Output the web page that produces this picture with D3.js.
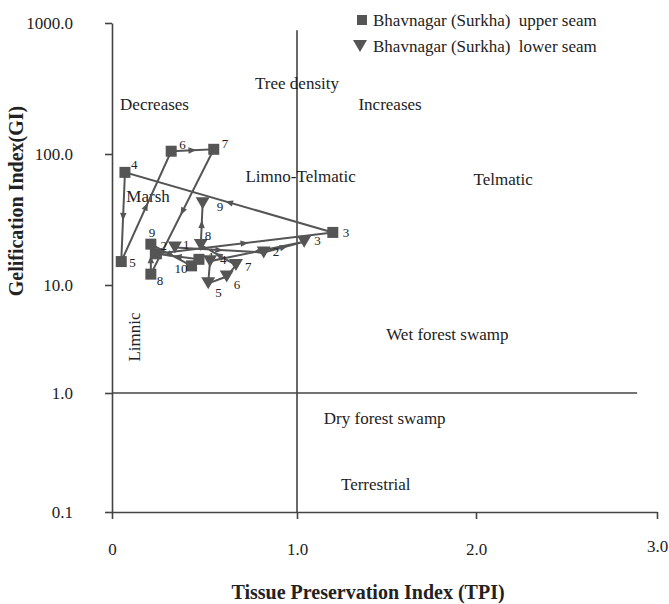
<!DOCTYPE html>
<html><head><meta charset="utf-8">
<script src="https://cdn.jsdelivr.net/npm/d3@7"></script>
<style>body{margin:0;background:#fff}svg{display:block}text{font-family:"Liberation Serif","Times New Roman",serif;fill:#222}</style>
</head><body><svg id="c" width="669" height="604"></svg>
<script>
// ---- data ----
const seriesNames = ["Bhavnagar (Surkha)  upper seam", "Bhavnagar (Surkha)  lower seam"];
const upperLabels = ["1","2","3","4","5","6","7","8","9","10"];
const upperTPI = [0.47, 0.24, 1.20, 0.07, 0.05, 0.32, 0.55, 0.21, 0.21, 0.43];
const upperGI  = [15.7, 17.3, 25.2, 72.4, 15.1, 105, 108.6, 12.1, 20.5, 14.0];
const lowerLabels = ["1","2","3","4","5","6","7","8","9"];
const lowerTPI = [0.34, 0.82, 1.04, 0.53, 0.52, 0.62, 0.67, 0.48, 0.49];
const lowerGI  = [19.3, 17.7, 21.4, 15.2, 10.3, 11.6, 14.2, 20.2, 42.1];
const xTicks = [0, 1, 2, 3];
const xTickLabels = ["0", "1.0", "2.0", "3.0"];
const yTicks = [0.1, 1, 10, 100, 1000];
const yTickLabels = ["0.1", "1.0", "10.0", "100.0", "1000.0"];
const regionTexts = ["Tree density","Decreases","Increases","Limno-Telmatic","Telmatic","Marsh","Wet forest swamp","Limnic","Dry forest swamp","Terrestrial"];
const regionTPI = [1.0, 0.23, 1.52, 1.02, 2.15, 0.195, 1.84, 0.12, 1.49, 1.44];
const regionGI  = [348, 241, 241, 67.9, 64.4, 47.8, 3.52, 3.30, 0.616, 0.172];
const dividerGI = 1;      // horizontal boundary
const dividerTPI = 1;     // vertical boundary
const dividerXEnd = 2.89; // extent of the horizontal boundary
const dividerYEnd = 880;  // extent of the vertical boundary

// ---- styling (not data) ----
const upperLabelOffsets = [[9,-3],[4,-8],[10,0],[6,-8],[8,1],[8,-7],[8,-6],[6,6],[-2,-12],[-17,3]];
const lowerLabelOffsets = [[8,-3],[9,-1],[10,-1],[10,-2],[7,9],[7,8],[9,1],[4,-10],[14,3]];
const markColor = "#555";

const svg = d3.select("#c");
svg.append("rect").attr("width",669).attr("height",604).attr("fill","#fff");

const x = d3.scaleLinear().domain([0,1,2,3]).range([112,297,476,657]);
const y = d3.scaleLog().domain([0.1,1,10,100,1000]).range([512,393,285,154,23]);

// axes
const xAxis = d3.axisBottom(x).tickValues(xTicks).tickSize(7).tickSizeOuter(0).tickPadding(24)
  .tickFormat((d,i)=>xTickLabels[i]);
const gx = svg.append("g").attr("transform",`translate(0,${y(0.1)})`).call(xAxis);
const yAxis = d3.axisLeft(y).tickValues(yTicks).tickSize(7).tickSizeOuter(0).tickPadding(32)
  .tickFormat((d,i)=>yTickLabels[i]);
const gy = svg.append("g").attr("transform",`translate(${x(0)},0)`).call(yAxis);
[gx,gy].forEach(g=>{
  g.selectAll("path,line").attr("stroke","#444").attr("stroke-width",1.6);
  g.selectAll("text").style("font-family",'"Liberation Serif",serif').style("font-size","17px").attr("fill","#222");
});
gx.selectAll("text").filter((d)=>d===3).attr("dy","0.5em");

// divider lines
svg.append("line").attr("x1",x(0)).attr("x2",x(dividerXEnd)).attr("y1",y(dividerGI)).attr("y2",y(dividerGI))
  .attr("stroke","#444").attr("stroke-width",1.6);
svg.append("line").attr("x1",x(dividerTPI)).attr("x2",x(dividerTPI)).attr("y1",y(0.1)).attr("y2",y(dividerYEnd))
  .attr("stroke","#444").attr("stroke-width",1.6);

// region labels
regionTexts.forEach((t,i)=>{
  const tx = svg.append("text").attr("x",x(regionTPI[i])).attr("y",y(regionGI[i]))
    .attr("text-anchor","middle").attr("dy","0.35em").style("font-size","17px").text(t);
  if (t==="Limnic") tx.attr("transform",`rotate(-90,${x(regionTPI[i])},${y(regionGI[i])})`);
});

// axis titles
svg.append("text").attr("x",368).attr("y",592).attr("text-anchor","middle").attr("dy","0.35em")
  .style("font-size","20px").style("font-weight","bold").text("Tissue Preservation Index (TPI)");
svg.append("text").attr("transform","translate(16,201) rotate(-90)").attr("text-anchor","middle").attr("dy","0.35em")
  .style("font-size","20px").style("font-weight","bold").text("Gelification Index(GI)");

// series drawing
function drawSeries(tpi, gi, labels, offsets, shape){
  const pts = tpi.map((v,i)=>[x(v), y(gi[i])]);
  svg.append("path").attr("d", d3.line()(pts)).attr("fill","none").attr("stroke",markColor).attr("stroke-width",2);
  // direction arrows at segment midpoints
  for (let i=0;i<pts.length-1;i++){
    const [x1,y1]=pts[i],[x2,y2]=pts[i+1];
    const len=Math.hypot(x2-x1,y2-y1);
    if (len<24) continue;
    const a=Math.atan2(y2-y1,x2-x1)*180/Math.PI;
    svg.append("path").attr("d","M4,0L-4,-3.2L-4,3.2Z").attr("fill",markColor)
      .attr("transform",`translate(${(x1+x2)/2},${(y1+y2)/2}) rotate(${a})`);
  }
  pts.forEach((p,i)=>{
    if (shape==="square"){
      svg.append("rect").attr("x",p[0]-5.5).attr("y",p[1]-5.5).attr("width",11).attr("height",11).attr("fill",markColor);
    } else {
      svg.append("path").attr("d","M-7,-6L7,-6L0,6Z").attr("fill",markColor).attr("transform",`translate(${p[0]},${p[1]})`);
    }
    svg.append("text").attr("x",p[0]+offsets[i][0]).attr("y",p[1]+offsets[i][1]).attr("dy","0.35em")
      .style("font-size","13px").text(labels[i]);
  });
}
drawSeries(upperTPI, upperGI, upperLabels, upperLabelOffsets, "square");
drawSeries(lowerTPI, lowerGI, lowerLabels, lowerLabelOffsets, "triangle");

// legend
const lg = svg.append("g");
lg.append("rect").attr("x",357).attr("y",15).attr("width",10).attr("height",10).attr("fill",markColor);
lg.append("path").attr("d","M-7,-6L7,-6L0,6Z").attr("fill",markColor).attr("transform","translate(360,46)");
seriesNames.forEach((n,i)=>{
  lg.append("text").attr("x",373).attr("y",20+i*26).attr("dy","0.35em").style("font-size","17px")
    .style("white-space","pre").attr("xml:space","preserve").text(n);
});
</script></body></html>
